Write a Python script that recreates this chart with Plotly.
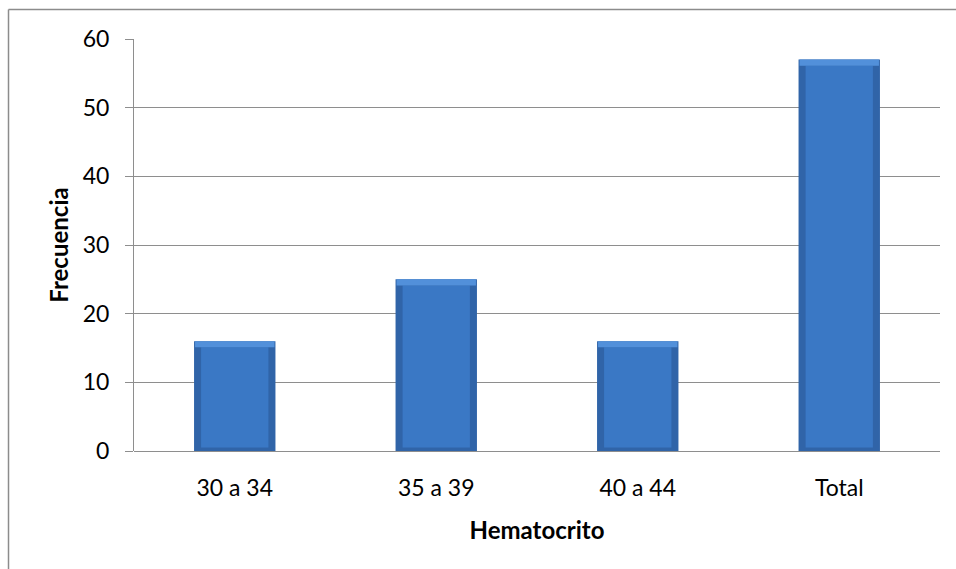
import plotly.graph_objects as go

# Frecuencia por rango de hematocrito
categorias = ["30 a 34", "35 a 39", "40 a 44", "Total"]
frecuencias = [16, 25, 16, 57]

y_ticks = [0, 10, 20, 30, 40, 50, 60]

FONT = "Lato, 'Open Sans', sans-serif"
BAR_W = 0.404
SIDE = 0.035    # bevel width on the sides (category units)
TOP = 0.9       # top bevel height (value units)
BOTTOM = 0.5    # bottom shadow height (value units)

fig = go.Figure()

# Outer body of each bar (darker edges)
fig.add_trace(go.Bar(
    x=categorias, y=frecuencias, width=BAR_W,
    marker=dict(color="#3064A8", line=dict(width=0)),
    hoverinfo="x+y", showlegend=False,
))

# Inner face of each bar
fig.add_trace(go.Bar(
    x=categorias, y=[v - TOP - BOTTOM for v in frecuencias],
    base=[BOTTOM] * len(frecuencias), width=BAR_W - 2 * SIDE,
    marker=dict(color="#3A78C5", line=dict(width=0)),
    hoverinfo="skip", showlegend=False,
))

# Lighter top bevel
fig.add_trace(go.Bar(
    x=categorias, y=[TOP] * len(frecuencias),
    base=[v - TOP for v in frecuencias], width=BAR_W - 0.01,
    marker=dict(color="#5290DA", line=dict(width=0)),
    hoverinfo="skip", showlegend=False,
))

fig.update_layout(
    barmode="overlay",
    width=956, height=569,
    margin=dict(l=134, r=16, t=39, b=118),
    paper_bgcolor="white", plot_bgcolor="white",
    font=dict(family=FONT, size=23, color="#000000"),
    xaxis=dict(
        showline=False, showgrid=False,
        ticks="outside", ticklen=16, tickcolor="rgba(0,0,0,0)",
        tickfont=dict(size=23),
        title=dict(text="<b>Hematocrito</b>", font=dict(size=24), standoff=22),
        fixedrange=True,
    ),
    yaxis=dict(
        range=[0, 60], tickvals=y_ticks,
        showgrid=True, gridcolor="#8E8E8E", gridwidth=1,
        showline=True, linecolor="#8E8E8E", linewidth=1,
        ticks="outside", ticklen=8, tickcolor="#8E8E8E",
        ticklabelstandoff=11,
        tickfont=dict(size=23),
        title=dict(text="<b>Frecuencia</b>", font=dict(size=24), standoff=7),
        zeroline=True, zerolinecolor="#8E8E8E", zerolinewidth=1,
        fixedrange=True,
    ),
    shapes=[
        # chart frame (top and left edges)
        dict(type="line", xref="paper", yref="paper",
             x0=-0.1557, x1=1.05, y0=1.0716, y1=1.0716,
             line=dict(color="#8C8C8C", width=1.5)),
        dict(type="line", xref="paper", yref="paper",
             x0=-0.1557, x1=-0.1557, y0=1.0716, y1=-0.32,
             line=dict(color="#8C8C8C", width=1.5)),
    ],
)

fig.write_html("out.html")
